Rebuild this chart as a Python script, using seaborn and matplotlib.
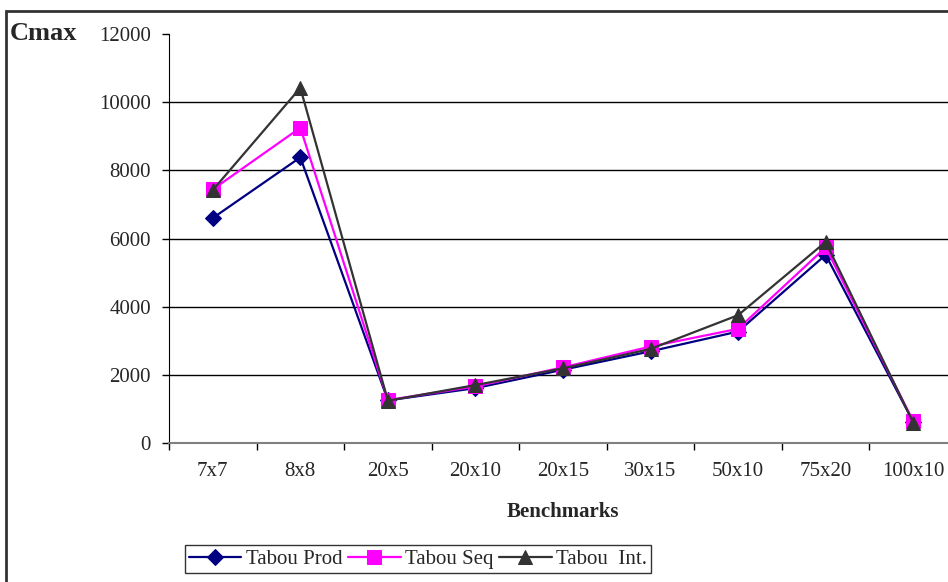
import numpy as np
import pandas as pd
import matplotlib
matplotlib.use("Agg")
import matplotlib.pyplot as plt
from matplotlib.patches import Rectangle
from matplotlib.ticker import FixedLocator
import seaborn as sns


benchmarks = ['7x7', '8x8', '20x5', '20x10', '20x15', '30x15', '50x10', '75x20', '100x10']
tabou_prod = [6600, 8380, 1250, 1610, 2150, 2690, 3270, 5520, 620]
tabou_seq = [7440, 9250, 1260, 1660, 2220, 2830, 3350, 5740, 640]
tabou_int = [7420, 10420, 1240, 1700, 2190, 2760, 3750, 5900, 600]

series = {'Tabou Prod': tabou_prod, 'Tabou Seq': tabou_seq, 'Tabou  Int.': tabou_int}
colors = {'Tabou Prod': '#000080', 'Tabou Seq': '#FF00FF', 'Tabou  Int.': '#333333'}
markers = {'Tabou Prod': 'D', 'Tabou Seq': 's', 'Tabou  Int.': '^'}
sizes = {'Tabou Prod': 8, 'Tabou Seq': 10, 'Tabou  Int.': 10}

df = pd.concat([pd.DataFrame({'Benchmarks': benchmarks, 'Cmax': v, 'algo': k})
                for k, v in series.items()], ignore_index=True)
df['pos'] = df['Benchmarks'].map({b: i for i, b in enumerate(benchmarks)})

sns.set_style('white')
plt.rcParams['font.family'] = ['Liberation Serif', 'DejaVu Serif']

fig = plt.figure(figsize=(9.48, 5.82), dpi=100)
ax = fig.add_axes([169 / 948, 1 - 443 / 582, (957 - 169) / 948, (443 - 34) / 582])

for name in series:
    sub = df[df['algo'] == name]
    sns.lineplot(data=sub, x='pos', y='Cmax', ax=ax, color=colors[name], marker=markers[name],
                 markersize=sizes[name], markeredgecolor=colors[name], linewidth=1.6,
                 label=name, sort=False, zorder=3)

ax.set_xlim(-0.5, len(benchmarks) - 0.5)
ax.set_ylim(0, 12000)
ax.set_yticks(np.arange(0, 12001, 2000))
ax.set_yticklabels([str(v) for v in range(0, 12001, 2000)], fontsize=15)
ax.set_xticks(range(len(benchmarks)))
ax.set_xticklabels(benchmarks, fontsize=15)
ax.xaxis.set_minor_locator(FixedLocator(np.arange(-0.5, len(benchmarks), 1)))
ax.tick_params(axis='x', which='major', length=0, pad=14)
ax.tick_params(axis='x', which='minor', length=5, direction='out', color='black', width=1)
ax.tick_params(axis='y', length=5, direction='out', color='black', width=1, pad=8)
ax.yaxis.set_ticks_position('left')
ax.xaxis.set_ticks_position('bottom')
ax.xaxis.set_tick_params(which='minor', bottom=True)

for v in range(2000, 12000, 2000):
    ax.axhline(v, color='black', linewidth=1, zorder=1)

for s in ['top', 'right']:
    ax.spines[s].set_visible(False)
ax.spines['left'].set_color('black')
ax.spines['bottom'].set_color('#808080')
ax.spines['bottom'].set_linewidth(1.5)

ax.set_xlabel('Benchmarks', fontsize=15, fontweight='bold')
ax.xaxis.set_label_coords((563 - 169) / (957 - 169), -(502 - 443) / (443 - 34))
ax.set_ylabel('')
fig.text(10 / 948, 1 - 34 / 582, 'Cmax', fontsize=19, fontweight='bold', va='center', ha='left')

leg = ax.legend(loc='center', bbox_to_anchor=((418 - 169) / (957 - 169), -(559 - 443) / (443 - 34)),
                ncol=3, fontsize=15, frameon=True, fancybox=False, handlelength=2.5,
                columnspacing=0.3, handletextpad=0.2, borderpad=0.2, borderaxespad=0)
leg.get_frame().set_edgecolor('black')
leg.get_frame().set_linewidth(1)

fig.patches.append(Rectangle((6 / 948, -0.05), 1.1, 1 - 11 / 582 + 0.05, transform=fig.transFigure,
                             fill=False, edgecolor='#333333', linewidth=2))

fig.savefig('out.png', dpi=100)
